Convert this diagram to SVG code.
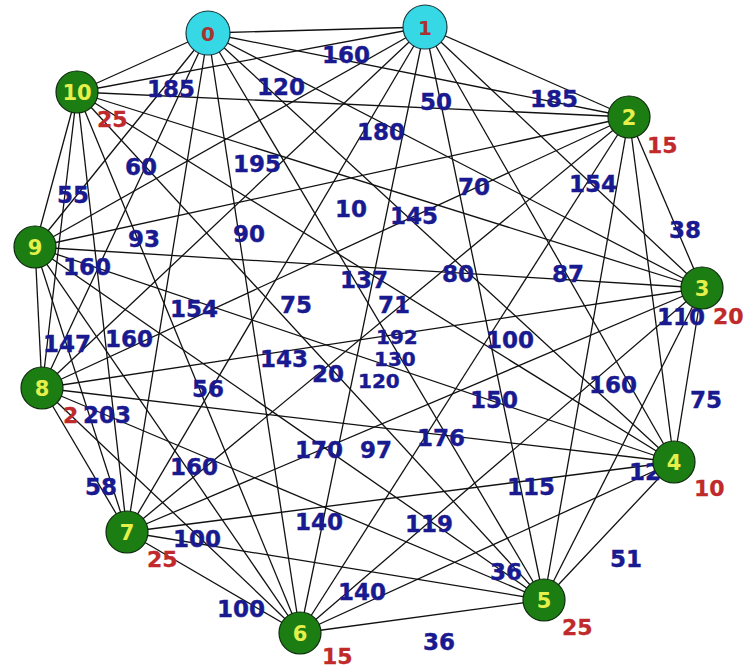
<svg xmlns="http://www.w3.org/2000/svg" width="747" height="669" viewBox="0 0 747 669">
<style>
.e line{stroke:#111;stroke-width:1.3}
.w{font-family:"DejaVu Sans",sans-serif;font-weight:bold;font-size:23px;fill:#1a1a90;stroke:#1a1a90;stroke-width:0.4}
.s{font-size:20px}
.r{font-family:"DejaVu Sans",sans-serif;font-weight:bold;font-size:22px;fill:#c02a2a;stroke:#c02a2a;stroke-width:0.3}
.g{fill:#1b7d12;stroke:#0d2a0d;stroke-width:1.2}
.c{fill:#36d8e6;stroke:#1a3a40;stroke-width:1.2}
.tg{font-family:"DejaVu Sans",sans-serif;font-weight:bold;font-size:21px;fill:#e6f04a;text-anchor:middle}
.tc{font-family:"DejaVu Sans",sans-serif;font-weight:bold;font-size:20px;fill:#a83232;text-anchor:middle}
</style>
<rect width="747" height="669" fill="#fff"/>
<g id="connectors" class="e">
<line x1="208" y1="33" x2="425" y2="27"/><line x1="208" y1="33" x2="629" y2="117"/><line x1="208" y1="33" x2="702" y2="288"/><line x1="208" y1="33" x2="674" y2="462"/><line x1="208" y1="33" x2="544" y2="600"/><line x1="208" y1="33" x2="300" y2="633"/><line x1="208" y1="33" x2="127" y2="532"/><line x1="208" y1="33" x2="42" y2="388"/><line x1="208" y1="33" x2="35" y2="247"/><line x1="208" y1="33" x2="77" y2="92"/>
<line x1="425" y1="27" x2="629" y2="117"/><line x1="425" y1="27" x2="702" y2="288"/><line x1="425" y1="27" x2="674" y2="462"/><line x1="425" y1="27" x2="544" y2="600"/><line x1="425" y1="27" x2="300" y2="633"/><line x1="425" y1="27" x2="127" y2="532"/><line x1="425" y1="27" x2="42" y2="388"/><line x1="425" y1="27" x2="35" y2="247"/><line x1="425" y1="27" x2="77" y2="92"/>
<line x1="629" y1="117" x2="702" y2="288"/><line x1="629" y1="117" x2="674" y2="462"/><line x1="629" y1="117" x2="544" y2="600"/><line x1="629" y1="117" x2="300" y2="633"/><line x1="629" y1="117" x2="127" y2="532"/><line x1="629" y1="117" x2="42" y2="388"/><line x1="629" y1="117" x2="35" y2="247"/><line x1="629" y1="117" x2="77" y2="92"/>
<line x1="702" y1="288" x2="674" y2="462"/><line x1="702" y1="288" x2="544" y2="600"/><line x1="702" y1="288" x2="300" y2="633"/><line x1="702" y1="288" x2="127" y2="532"/><line x1="702" y1="288" x2="42" y2="388"/><line x1="702" y1="288" x2="35" y2="247"/><line x1="702" y1="288" x2="77" y2="92"/>
<line x1="674" y1="462" x2="544" y2="600"/><line x1="674" y1="462" x2="300" y2="633"/><line x1="674" y1="462" x2="127" y2="532"/><line x1="674" y1="462" x2="42" y2="388"/><line x1="674" y1="462" x2="35" y2="247"/><line x1="674" y1="462" x2="77" y2="92"/>
<line x1="544" y1="600" x2="300" y2="633"/><line x1="544" y1="600" x2="127" y2="532"/><line x1="544" y1="600" x2="42" y2="388"/><line x1="544" y1="600" x2="35" y2="247"/><line x1="544" y1="600" x2="77" y2="92"/>
<line x1="300" y1="633" x2="127" y2="532"/><line x1="300" y1="633" x2="42" y2="388"/><line x1="300" y1="633" x2="35" y2="247"/><line x1="300" y1="633" x2="77" y2="92"/>
<line x1="127" y1="532" x2="42" y2="388"/><line x1="127" y1="532" x2="35" y2="247"/><line x1="127" y1="532" x2="77" y2="92"/>
<line x1="42" y1="388" x2="35" y2="247"/><line x1="42" y1="388" x2="77" y2="92"/>
<line x1="35" y1="247" x2="77" y2="92"/>
</g>
<g id="weights">
<text class="w" x="322" y="63">160</text>
<text class="w" x="147" y="97">185</text>
<text class="w" x="257" y="95">120</text>
<text class="w" x="420" y="110">50</text>
<text class="w" x="530" y="107">185</text>
<text class="w" x="357" y="140">180</text>
<text class="w" x="125" y="175">60</text>
<text class="w" x="233" y="172">195</text>
<text class="w" x="458" y="195">70</text>
<text class="w" x="569" y="192">154</text>
<text class="w" x="57" y="203">55</text>
<text class="w" x="128" y="247">93</text>
<text class="w" x="335" y="217">10</text>
<text class="w" x="390" y="224">145</text>
<text class="w" x="233" y="242">90</text>
<text class="w" x="669" y="238">38</text>
<text class="w" x="63" y="275">160</text>
<text class="w" x="340" y="288">137</text>
<text class="w" x="442" y="282">80</text>
<text class="w" x="552" y="282">87</text>
<text class="w" x="170" y="317">154</text>
<text class="w" x="280" y="313">75</text>
<text class="w" x="378" y="313">71</text>
<text class="w" x="657" y="325">110</text>
<text class="w" x="43" y="352">147</text>
<text class="w" x="105" y="347">160</text>
<text class="w s" x="376" y="344">192</text>
<text class="w s" x="374" y="366">130</text>
<text class="w" x="486" y="348">100</text>
<text class="w" x="260" y="367">143</text>
<text class="w" x="312" y="382">20</text>
<text class="w s" x="358" y="388">120</text>
<text class="w" x="470" y="408">150</text>
<text class="w" x="192" y="397">56</text>
<text class="w" x="589" y="393">160</text>
<text class="w" x="690" y="408">75</text>
<text class="w" x="83" y="423">203</text>
<text class="w" x="295" y="458">170</text>
<text class="w" x="360" y="458">97</text>
<text class="w" x="417" y="446">176</text>
<text class="w" x="170" y="475">160</text>
<text class="w" x="85" y="495">58</text>
<text class="w" x="507" y="495">115</text>
<text class="w" x="629" y="480">12</text>
<text class="w" x="295" y="530">140</text>
<text class="w" x="405" y="532">119</text>
<text class="w" x="173" y="547">100</text>
<text class="w" x="338" y="600">140</text>
<text class="w" x="490" y="580">36</text>
<text class="w" x="610" y="567">51</text>
<text class="w" x="217" y="617">100</text>
<text class="w" x="423" y="650">36</text>
</g>
<g id="costs">
<text class="r" x="97" y="127">25</text>
<text class="r" x="647" y="153">15</text>
<text class="r" x="713" y="324">20</text>
<text class="r" x="694" y="496">10</text>
<text class="r" x="562" y="635">25</text>
<text class="r" x="322" y="664">15</text>
<text class="r" x="147" y="567">25</text>
<text class="r" x="63" y="423">2</text>
</g>
<g id="n0"><circle class="c" cx="208" cy="33" r="22"/><text class="tc" x="208" y="41">0</text></g>
<g id="n1"><circle class="c" cx="425" cy="27" r="22"/><text class="tc" x="425" y="35">1</text></g>
<g id="n2"><circle class="g" cx="629" cy="117" r="21"/><text class="tg" x="629" y="125">2</text></g>
<g id="n3"><circle class="g" cx="702" cy="288" r="21"/><text class="tg" x="702" y="296">3</text></g>
<g id="n4"><circle class="g" cx="674" cy="462" r="21"/><text class="tg" x="674" y="470">4</text></g>
<g id="n5"><circle class="g" cx="544" cy="600" r="21"/><text class="tg" x="544" y="608">5</text></g>
<g id="n6"><circle class="g" cx="300" cy="633" r="21"/><text class="tg" x="300" y="641">6</text></g>
<g id="n7"><circle class="g" cx="127" cy="532" r="21"/><text class="tg" x="127" y="540">7</text></g>
<g id="n8"><circle class="g" cx="42" cy="388" r="21"/><text class="tg" x="42" y="396">8</text></g>
<g id="n9"><circle class="g" cx="35" cy="247" r="21"/><text class="tg" x="35" y="255">9</text></g>
<g id="n10"><circle class="g" cx="77" cy="92" r="21"/><text class="tg" x="77" y="100">10</text></g>
</svg>
